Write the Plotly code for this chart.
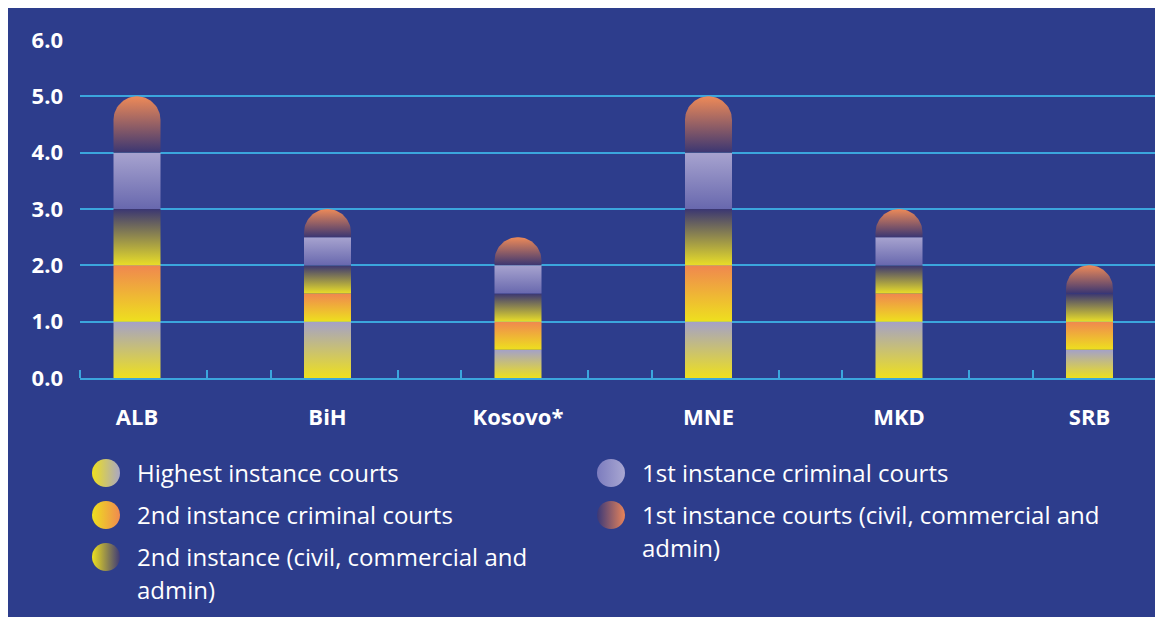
import numpy as np
import plotly.graph_objects as go

# data
countries = ["ALB", "BiH", "Kosovo*", "MNE", "MKD", "SRB"]
series_names = [
    "Highest instance courts",
    "2nd instance criminal courts",
    "2nd instance (civil, commercial and<br>admin)",
    "1st instance criminal courts",
    "1st instance courts (civil, commercial and<br>admin)",
]
highest = [1.0, 1.0, 0.5, 1.0, 1.0, 0.5]
second_criminal = [1.0, 0.5, 0.5, 1.0, 0.5, 0.5]
second_civil = [1.0, 0.5, 0.5, 1.0, 0.5, 0.5]
first_criminal = [1.0, 0.5, 0.5, 1.0, 0.5, 0.0]
first_civil = [1.0, 0.5, 0.5, 1.0, 0.5, 0.5]
y_ticks = [0, 1, 2, 3, 4, 5, 6]

series = [highest, second_criminal, second_civil, first_criminal, first_civil]

YELLOW = "#EEE01E"
grad = [
    (YELLOW, "#A4A1C8"),
    (YELLOW, "#F0874F"),
    ("#E9DE28", "#3A3672"),
    ("#6868AE", "#A7A3CF"),
    ("#3B3672", "#EE8A58"),
]
dot_grad = [
    (YELLOW, "#A9A7C4"),
    (YELLOW, "#F08A50"),
    (YELLOW, "#3E3A78"),
    ("#7C7CBE", "#A9A7D2"),
    ("#3A3878", "#E8845A"),
]
NAVY = "#2D3D8C"
CYAN = "#3BA6DD"

# figure fits the window inside the 8px page margin
OX, OY = 8, 8
W, H = 1163 - 2 * OX, 625 - 2 * OY


def fx(sx):  # screen x -> paper fraction
    return min(max((sx - OX) / W, 0), 1)


def fy(sy):  # screen y -> paper fraction
    return min(max(1 - (sy - OY) / H, 0), 1)


left_px, right_px = 80, OX + W
cat_px = 190.5  # pixels per category
x_rng = [-(137 - left_px) / cat_px, -(137 - left_px) / cat_px + (right_px - left_px) / cat_px]
x_dom = [fx(left_px), fx(right_px)]
y_dom = [fy(378), fy(40)]
y_rng = [0, 6]
px_x = (x_dom[1] - x_dom[0]) * W / (x_rng[1] - x_rng[0])
px_y = (y_dom[1] - y_dom[0]) * H / (y_rng[1] - y_rng[0])
bar_w = 47 / px_x
ry = (bar_w / 2 * px_x) / px_y

fig = go.Figure()

vals = np.array(series)
for i, c in enumerate(countries):
    col = vals[:, i]
    top_k = [k for k in range(len(col)) if col[k] > 0][-1]
    base = 0.0
    for k in range(len(col)):
        h = col[k]
        if h <= 0:
            continue
        b, t = base, base + h
        xl, xr = i - bar_w / 2, i + bar_w / 2
        if k == top_k:
            r = min(ry, h)
            th = np.linspace(0, np.pi, 40)
            xs = [xl, xr] + list(i + bar_w / 2 * np.cos(th)) + [xl]
            ys = [b, b] + list(t - r + r * np.sin(th)) + [b]
        else:
            xs = [xl, xr, xr, xl, xl]
            ys = [b, b, t, t, b]
        fig.add_trace(go.Scatter(
            x=xs, y=ys, mode="lines", fill="toself",
            line=dict(width=0, color="rgba(0,0,0,0)"),
            fillgradient=dict(type="vertical", start=b, stop=t,
                              colorscale=[[0, grad[k][0]], [1, grad[k][1]]]),
            showlegend=False, hoverinfo="skip",
        ))
        base = t

# hand-made legend in two columns (screen pixels)
leg_x = [106, 106, 106, 611, 611]
leg_y = [473, 515, 557, 473, 515]
for k, name in enumerate(series_names):
    fig.add_trace(go.Scatter(
        x=[leg_x[k]], y=[leg_y[k]], mode="markers", xaxis="x2", yaxis="y2",
        marker=dict(size=28, color=dot_grad[k][0], line=dict(width=0),
                    gradient=dict(type="horizontal", color=dot_grad[k][1])),
        showlegend=False, hoverinfo="skip",
    ))
    for j, line in enumerate(name.split("<br>")):
        fig.add_annotation(
            x=leg_x[k] + 29, y=leg_y[k] - 1 + 33 * j, xref="x2", yref="y2",
            text=line, showarrow=False, xanchor="left", yanchor="middle",
            font=dict(family="Open Sans", size=24, color="white"),
        )

fig.update_layout(
    width=W, height=H,
    margin=dict(l=0, r=0, t=0, b=0, autoexpand=False),
    paper_bgcolor=NAVY,
    plot_bgcolor="rgba(0,0,0,0)",
    xaxis=dict(
        domain=x_dom, range=x_rng, tickvals=list(range(len(countries))),
        ticktext=countries, ticks="", showgrid=False, zeroline=False,
        showline=True, linecolor=CYAN, linewidth=2, layer="below traces",
        ticklabelstandoff=19, automargin=False,
        tickfont=dict(family="Open Sans", size=22, color="white", weight="bold"),
        minor=dict(ticks="inside", tick0=x_rng[0], dtick=1 / 3, ticklen=8,
                   tickwidth=2, tickcolor=CYAN, showgrid=False),
    ),
    yaxis=dict(
        domain=y_dom, range=y_rng, tickvals=y_ticks,
        ticktext=[f"{v:.1f}" for v in y_ticks],
        showgrid=True, gridcolor=CYAN, gridwidth=2, zeroline=False,
        showline=False, ticks="", ticklabelstandoff=16, automargin=False,
        layer="below traces",
        tickfont=dict(family="Open Sans", size=22, color="white", weight="bold"),
    ),
    xaxis2=dict(domain=[0, 1], range=[OX, OX + W], visible=False, anchor="y2"),
    yaxis2=dict(domain=[0, 1], range=[OY + H, OY], visible=False, anchor="x2"),
)

fig.write_html("out.html")
